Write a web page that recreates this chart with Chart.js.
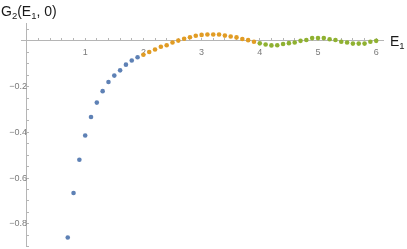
<!DOCTYPE html>
<html>
<head>
<meta charset="utf-8">
<script src="https://cdn.jsdelivr.net/npm/chart.js@4"></script>
<style>
  html, body { margin: 0; padding: 0; background: #fff; }
  #wrap { width: 407px; height: 249px; }
</style>
</head>
<body>
<div id="wrap"><canvas id="g2Chart"></canvas></div>
<script>
// values
const blueE = [0.7, 0.8, 0.9, 1.0, 1.1, 1.2, 1.3, 1.4, 1.5, 1.6, 1.7, 1.8, 1.9];
const blueG = [-0.86, -0.665, -0.52, -0.414, -0.333, -0.27, -0.22, -0.18, -0.152, -0.129, -0.104, -0.086, -0.072];

const orangeE = [2.0, 2.1, 2.2, 2.3, 2.4, 2.5, 2.6, 2.7, 2.8, 2.9, 3.0, 3.1, 3.2, 3.3, 3.4, 3.5, 3.6, 3.7, 3.8, 3.9];
const orangeG = [-0.061, -0.049, -0.038, -0.026, -0.019, -0.007, 0.001, 0.009, 0.016, 0.022, 0.026, 0.028, 0.028, 0.028, 0.023, 0.019, 0.015, 0.008, 0.003, -0.004];

const greenE = [4.0, 4.1, 4.2, 4.3, 4.4, 4.5, 4.6, 4.7, 4.8, 4.9, 5.0, 5.1, 5.2, 5.3, 5.4, 5.5, 5.6, 5.7, 5.8, 5.9, 6.0];
const greenG = [-0.011, -0.016, -0.02, -0.019, -0.014, -0.01, -0.007, 0.0, 0.004, 0.012, 0.012, 0.012, 0.007, 0.004, -0.004, -0.007, -0.012, -0.012, -0.012, -0.004, 0.0];

const xLabelTicks = [1, 2, 3, 4, 5, 6];
const yLabelTicks = [-0.8, -0.6, -0.4, -0.2];
// minor tick spacing
const xMinorStep = 0.2;
const yMinorStep = 0.05;

const toPoints = (xs, ys) => xs.map((x, i) => ({ x: x, y: ys[i] }));

const axisColor = "#b5b5b5";
const labelColor = "#7a7a7a";
const fontFamily = "'Liberation Sans', Arial, sans-serif";

const near = (a, b) => Math.abs(a - b) < 1e-6;

// every minor tick inside the range, skipping the origin
const minorTicks = (scale, step) => {
  const out = [];
  const first = Math.ceil(scale.min / step - 1e-9);
  const last = Math.floor(scale.max / step + 1e-9);
  for (let k = first; k <= last; k++) {
    if (k !== 0) out.push({ value: +(k * step).toFixed(4) });
  }
  scale.ticks = out;
};

// axes sit inside the plot, so they should not eat into the layout
const noRoom = s => {
  s.width = s.isHorizontal() ? s.width : 0;
  s.height = s.isHorizontal() ? 0 : s.height;
  s.paddingTop = 0;
  s.paddingBottom = 0;
  s.paddingLeft = 0;
  s.paddingRight = 0;
};

// draws the mixed-size axis labels G2(E1, 0) and E1
const axisLabels = {
  id: "axisLabels",
  afterDraw(chart) {
    const ctx = chart.ctx;
    const drawRuns = (x, y, runs) => {
      runs.forEach(r => {
        ctx.font = r.size + "px " + fontFamily;
        ctx.fillText(r.text, x, y + (r.dy || 0));
        x += ctx.measureText(r.text).width;
      });
    };
    ctx.save();
    ctx.fillStyle = "#1a1a1a";
    ctx.textBaseline = "alphabetic";
    ctx.textAlign = "left";
    drawRuns(1, 16, [
      { text: "G", size: 14 },
      { text: "2", size: 9.5, dy: 2.5 },
      { text: "(E", size: 14 },
      { text: "1", size: 9.5, dy: 2.5 },
      { text: ", 0)", size: 14 }
    ]);
    drawRuns(390, 46, [
      { text: "E", size: 14 },
      { text: "1", size: 9.5, dy: 2.5 }
    ]);
    ctx.restore();
  }
};

const pointStyle = color => ({
  pointRadius: 2.3,
  pointHoverRadius: 2.3,
  pointBackgroundColor: color,
  pointBorderWidth: 0,
  borderColor: color,
  showLine: false,
  clip: false
});

new Chart(document.getElementById("g2Chart"), {
  type: "scatter",
  data: {
    datasets: [
      { data: toPoints(blueE, blueG), ...pointStyle("#5e81b5") },
      { data: toPoints(orangeE, orangeG), ...pointStyle("#e19c24") },
      { data: toPoints(greenE, greenG), ...pointStyle("#8fb131") }
    ]
  },
  options: {
    responsive: true,
    maintainAspectRatio: false,
    animation: false,
    layout: { padding: { left: 21, right: 24, top: 23, bottom: 1 } },
    plugins: {
      legend: { display: false },
      tooltip: { enabled: false }
    },
    scales: {
      x: {
        type: "linear",
        position: { y: 0 },
        min: -0.103,
        max: 6.117,
        afterBuildTicks: s => minorTicks(s, xMinorStep),
        afterFit: noRoom,
        border: { display: true, color: axisColor, width: 1 },
        grid: {
          drawOnChartArea: false,
          drawTicks: true,
          tickLength: -3,
          tickColor: axisColor
        },
        ticks: {
          autoSkip: false,
          maxRotation: 0,
          padding: 9,
          color: labelColor,
          font: { family: fontFamily, size: 9 },
          callback: v => (xLabelTicks.some(t => near(t, v)) ? String(Math.round(v)) : "")
        }
      },
      y: {
        type: "linear",
        position: { x: 0 },
        min: -0.9,
        max: 0.078,
        afterBuildTicks: s => minorTicks(s, yMinorStep),
        afterFit: noRoom,
        border: { display: true, color: axisColor, width: 1 },
        grid: {
          drawOnChartArea: false,
          drawTicks: true,
          tickLength: -3,
          tickColor: axisColor
        },
        ticks: {
          autoSkip: false,
          padding: 6.5,
          color: labelColor,
          font: { family: fontFamily, size: 9 },
          callback: v => {
            const hit = yLabelTicks.find(t => near(t, v));
            return hit === undefined ? "" : "\u2212" + Math.abs(hit).toFixed(1);
          }
        }
      }
    }
  },
  plugins: [axisLabels]
});
</script>
</body>
</html>
